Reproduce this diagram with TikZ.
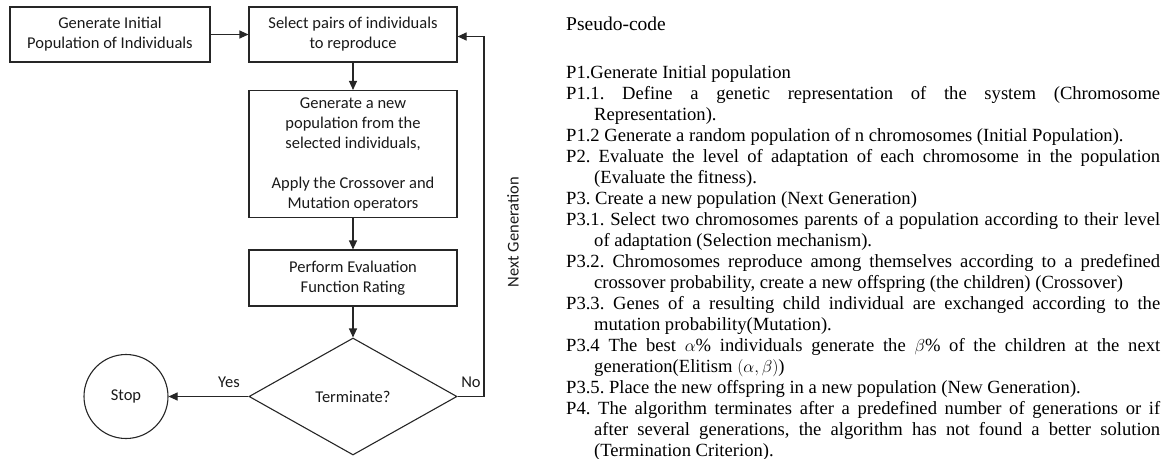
\documentclass[tikz,border=0pt]{standalone}
\usepackage{fontspec}
\setmainfont{Liberation Serif}
\newfontfamily\flowfont{Carlito}
\usetikzlibrary{shapes.geometric,arrows.meta}

\newcommand\pline{\par\noindent\hangindent=28pt\hangafter=1\relax}

\begin{document}
\begin{tikzpicture}[x=1pt,y=-1pt,
  ln/.style={draw=black!85, line width=1.1pt},
  box/.style={ln, rectangle, minimum width=208pt, align=center, inner sep=0pt,
    font=\flowfont\fontsize{16.5}{20}\selectfont, text=black!90},
  lbl/.style={inner sep=0pt, font=\flowfont\fontsize{16.5}{20}\selectfont, text=black!90},
  flow/.style={ln, -{Triangle[length=9pt,width=8pt]}}]

\useasboundingbox (0,0) rectangle (1164,458);

% flowchart nodes
\node[box, minimum width=200pt, minimum height=55pt] (init) at (110,34.5)
  {Generate Initial\\Population of Individuals};
\node[box, minimum height=55pt] (select) at (353,34.5)
  {Select pairs of individuals\\to reproduce};
\node[box, minimum height=127pt] (newpop) at (353,154)
  {Generate a new\\population from the\\selected individuals,\\[20pt]Apply the Crossover and\\Mutation operators};
\node[box, minimum height=56pt] (eval) at (353,278)
  {Perform Evaluation\\Function Rating};
\node[ln, diamond, minimum width=208pt, minimum height=117pt, inner sep=0pt,
  font=\flowfont\fontsize{16.5}{20}\selectfont, text=black!90] (term) at (353,396.5) {Terminate?};
\node[ln, circle, minimum size=84pt, inner sep=0pt,
  font=\flowfont\fontsize{16.5}{20}\selectfont, text=black!90] (stop) at (126,396.5) {Stop};

% feedback corners
\coordinate (fbA) at (484,396.5);
\coordinate (fbB) at (484,36.5);

% connectors
\draw[flow] (init) -- (select);
\draw[flow] (select) -- (newpop);
\draw[flow] (newpop) -- (eval);
\draw[flow] (eval) -- (term);
\draw[flow] (term) -- (stop);
\draw[flow] (term.east) -- (fbA) -- (fbB) -- (select.east |- fbB);

% connector labels
\node[lbl] (yes) at (229,382) {Yes};
\node[lbl] (no) at (471,382) {No};
\node[lbl, rotate=90] (nextgen) at (513,232) {Next Generation};

% pseudo-code listing
\node[anchor=west, inner sep=0pt, font=\fontsize{19.5}{22}\selectfont] (title) at (566,24) {Pseudo-code};
\node[anchor=north west, text width=594pt, align=justify, inner sep=0pt,
  font=\fontsize{18.6}{21}\selectfont] (code) at (566,57) {%
\parindent=0pt\parskip=0pt\sloppy\frenchspacing
\pline P1.Generate Initial population
\pline P1.1. Define a genetic representation of the system (Chromosome\linebreak Representation).
\pline P1.2 Generate a random population of n chromosomes (Initial Population).
\pline P2. Evaluate the level of adaptation of each chromosome in the population\linebreak (Evaluate the fitness).
\pline P3. Create a new population (Next Generation)
\pline P3.1. Select two chromosomes parents of a population according to their level\linebreak of adaptation (Selection mechanism).
\pline P3.2. Chromosomes reproduce among themselves according to a predefined\linebreak crossover probability, create a new offspring (the children) (Crossover)
\pline P3.3. Genes of a resulting child individual are exchanged according to the\linebreak mutation probability(Mutation).
\pline P3.4 The best $\alpha$\% individuals generate the $\beta$\% of the children at the next\linebreak generation(Elitism $(\alpha,\beta)$)
\pline P3.5. Place the new offspring in a new population (New Generation).
\pline P4. The algorithm terminates after a predefined number of generations or if\linebreak after several generations, the algorithm has not found a better solution\linebreak (Termination Criterion).\par};

\end{tikzpicture}
\end{document}
